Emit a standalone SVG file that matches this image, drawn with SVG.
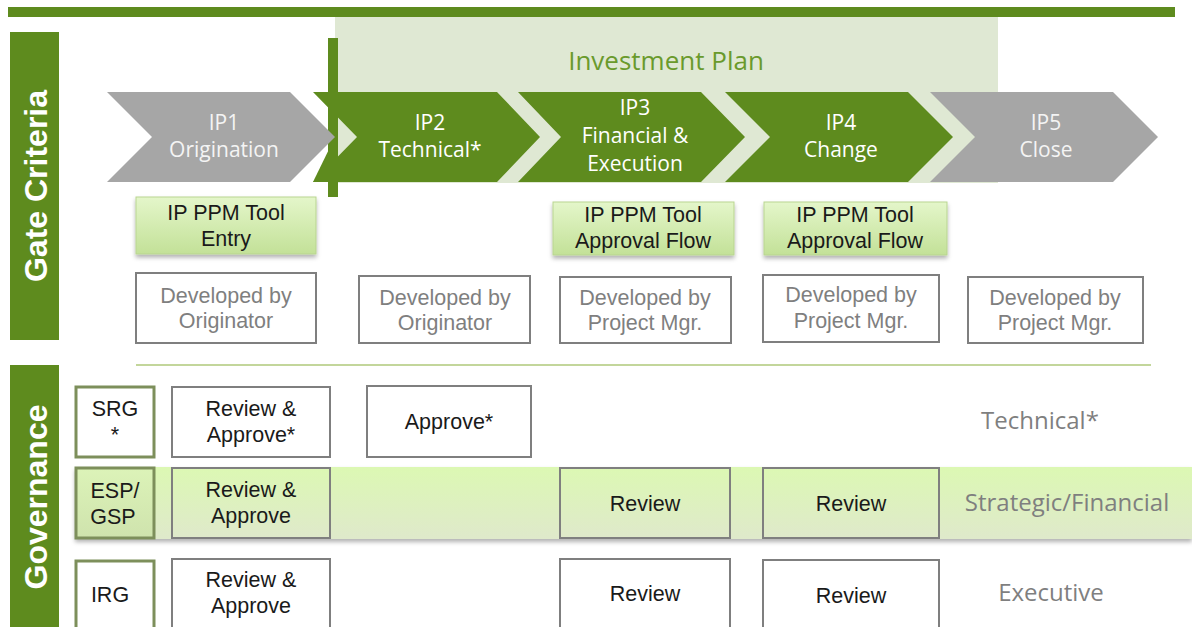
<svg xmlns="http://www.w3.org/2000/svg" width="1192" height="627" viewBox="0 0 1192 627">
<defs>
<linearGradient id="ppm" x1="0" y1="0" x2="0" y2="1"><stop offset="0" stop-color="#e4f6ca"/><stop offset="1" stop-color="#c3e198"/></linearGradient>
<linearGradient id="band" x1="0" y1="0" x2="0" y2="1"><stop offset="0" stop-color="#dcf8b3"/><stop offset="1" stop-color="#dfe9cb"/></linearGradient>
<linearGradient id="esp" x1="0" y1="0" x2="0" y2="1"><stop offset="0" stop-color="#dcf3b8"/><stop offset="1" stop-color="#cfe3ad"/></linearGradient>
<filter id="sh" x="-10%" y="-20%" width="120%" height="150%"><feDropShadow dx="0" dy="3" stdDeviation="2" flood-color="#000" flood-opacity="0.3"/></filter>
<style>
.g{fill:#5e8b1e}
.gr{fill:#a6a6a6}
.ct{font-family:"Open Sans","Noto Sans",sans-serif;font-size:21px;fill:#fff;text-anchor:middle}
.ctg{fill:#f4f4f4}
.side{font-family:"Liberation Sans",Arial,sans-serif;font-weight:bold;font-size:32px;fill:#fff;text-anchor:middle}
.ppm{fill:url(#ppm);stroke:#b9d591;stroke-width:1;filter:url(#sh)}
.bt{font-family:"Liberation Sans",Arial,sans-serif;font-size:21.5px;fill:#1a1a1a;text-anchor:middle}
.dev{fill:#fff;stroke:#7f7f7f;stroke-width:2}
.dt{font-family:"Liberation Sans",Arial,sans-serif;font-size:21.5px;fill:#7f7f7f;text-anchor:middle}
.gov{fill:#fff;stroke:#7f7f7f;stroke-width:2}
.govb{fill:none;stroke:#7f7f7f;stroke-width:2}
.lbl{fill:#fff;stroke:#7d8f5b;stroke-width:3}
.rt{font-family:"Open Sans","Noto Sans",sans-serif;font-size:24px;fill:#7f7f7f;text-anchor:middle}
</style>
</defs>
<rect width="1192" height="627" fill="#fff"/>
<rect x="8" y="7" width="1167" height="10" class="g"/>
<g id="investment-plan">
<rect x="335" y="17" width="663" height="166" fill="#dfe8d3"/>
<text x="666" y="70" font-family="'Open Sans','Noto Sans',sans-serif" font-size="26" fill="#6a9a2c" text-anchor="middle">Investment Plan</text>
</g>
<g id="gate-criteria">
<rect x="10" y="32" width="49" height="308" class="g"/>
<text class="side" transform="translate(46.5,186) rotate(-90)">Gate Criteria</text>
</g>
<g id="governance">
<rect x="10" y="365" width="49" height="262" class="g"/>
<text class="side" transform="translate(46.5,497) rotate(-90)">Governance</text>
</g>
<g id="ip2">
<polygon class="g" points="313,92 497,92 540,137 497,182 313,182 357,137"/>
<rect x="328" y="38" width="10" height="159" class="g"/>
<polygon class="g" points="335,137 338,137 338,182 313,182"/>
<text class="ct" x="430" y="130">IP2</text>
<text class="ct" x="430" y="157">Technical*</text>
</g>
<g id="ip1">
<polygon class="gr" points="107,92 290,92 335,137 290,182 107,182 152,137"/>
<text class="ct ctg" x="224" y="130">IP1</text>
<text class="ct ctg" x="224" y="157">Origination</text>
</g>
<g id="ip3">
<polygon class="g" points="518,92 701,92 745,137 701,182 518,182 561,137"/>
<text class="ct" x="635" y="115">IP3</text>
<text class="ct" x="635" y="143">Financial &amp;</text>
<text class="ct" x="635" y="171">Execution</text>
</g>
<g id="ip4">
<polygon class="g" points="725,92 908,92 953,137 908,182 725,182 770,137"/>
<text class="ct" x="841" y="130">IP4</text>
<text class="ct" x="841" y="157">Change</text>
</g>
<g id="ip5">
<polygon class="gr" points="930,92 1113,92 1158,137 1113,182 930,182 975,137"/>
<text class="ct ctg" x="1046" y="130">IP5</text>
<text class="ct ctg" x="1046" y="157">Close</text>
</g>
<g id="ppm-entry">
<rect x="136" y="197" width="180" height="57" class="ppm"/>
<text class="bt" x="226" y="220">IP PPM Tool</text>
<text class="bt" x="226" y="246">Entry</text>
</g>
<g id="ppm-ip3">
<rect x="553" y="202" width="181" height="53" class="ppm"/>
<text class="bt" x="643" y="222">IP PPM Tool</text>
<text class="bt" x="643" y="248">Approval Flow</text>
</g>
<g id="ppm-ip4">
<rect x="764" y="202" width="183" height="53" class="ppm"/>
<text class="bt" x="855" y="222">IP PPM Tool</text>
<text class="bt" x="855" y="248">Approval Flow</text>
</g>
<g id="dev1"><rect class="dev" x="136" y="273" width="180" height="70"/><text class="dt" x="226" y="303">Developed by</text><text class="dt" x="226" y="328">Originator</text></g>
<g id="dev2"><rect class="dev" x="359" y="276" width="171" height="67"/><text class="dt" x="445" y="305">Developed by</text><text class="dt" x="445" y="330">Originator</text></g>
<g id="dev3"><rect class="dev" x="560" y="277" width="171" height="66"/><text class="dt" x="645" y="305">Developed by</text><text class="dt" x="645" y="330">Project Mgr.</text></g>
<g id="dev4"><rect class="dev" x="763" y="275" width="176" height="67"/><text class="dt" x="851" y="302">Developed by</text><text class="dt" x="851" y="328">Project Mgr.</text></g>
<g id="dev5"><rect class="dev" x="968" y="277" width="175" height="66"/><text class="dt" x="1055" y="305">Developed by</text><text class="dt" x="1055" y="330">Project Mgr.</text></g>
<g id="connectors">
<line x1="136" y1="365" x2="1151" y2="365" stroke="#c3d69b" stroke-width="2"/>
</g>
<g id="band">
<rect x="75" y="467" width="1117" height="72" fill="url(#band)" filter="url(#sh)"/>
</g>
<g id="srg">
<rect class="lbl" x="76" y="387" width="78" height="70"/>
<text class="bt" x="115" y="416">SRG</text><text class="bt" x="115" y="442">*</text>
</g>
<g id="srg-ip1"><rect class="gov" x="172" y="387" width="158" height="70"/><text class="bt" x="251" y="416">Review &amp;</text><text class="bt" x="251" y="442">Approve*</text></g>
<g id="srg-ip2"><rect class="gov" x="367" y="386" width="164" height="71"/><text class="bt" x="449" y="429">Approve*</text></g>
<text id="technical" class="rt" x="1040" y="429">Technical*</text>
<g id="esp">
<rect x="76" y="468" width="78" height="70" fill="url(#esp)" stroke="#7d8f5b" stroke-width="3"/>
<text class="bt" x="115" y="498">ESP/</text><text class="bt" x="113" y="524">GSP</text>
</g>
<g id="esp-ip1"><rect class="govb" x="172" y="468" width="158" height="70"/><text class="bt" x="251" y="497">Review &amp;</text><text class="bt" x="251" y="523">Approve</text></g>
<g id="esp-ip3"><rect class="govb" x="560" y="468" width="170" height="70"/><text class="bt" x="645" y="511">Review</text></g>
<g id="esp-ip4"><rect class="govb" x="763" y="468" width="176" height="70"/><text class="bt" x="851" y="511">Review</text></g>
<text id="strategic" class="rt" x="1067" y="511">Strategic/Financial</text>
<g id="irg">
<rect class="lbl" x="76" y="561" width="78" height="70"/>
<text class="bt" x="110" y="602">IRG</text>
</g>
<g id="irg-ip1"><rect class="gov" x="172" y="559" width="158" height="72"/><text class="bt" x="251" y="587">Review &amp;</text><text class="bt" x="251" y="613">Approve</text></g>
<g id="irg-ip3"><rect class="gov" x="560" y="559" width="170" height="72"/><text class="bt" x="645" y="601">Review</text></g>
<g id="irg-ip4"><rect class="gov" x="763" y="560" width="176" height="71"/><text class="bt" x="851" y="603">Review</text></g>
<text id="executive" class="rt" x="1051" y="601">Executive</text>
</svg>
